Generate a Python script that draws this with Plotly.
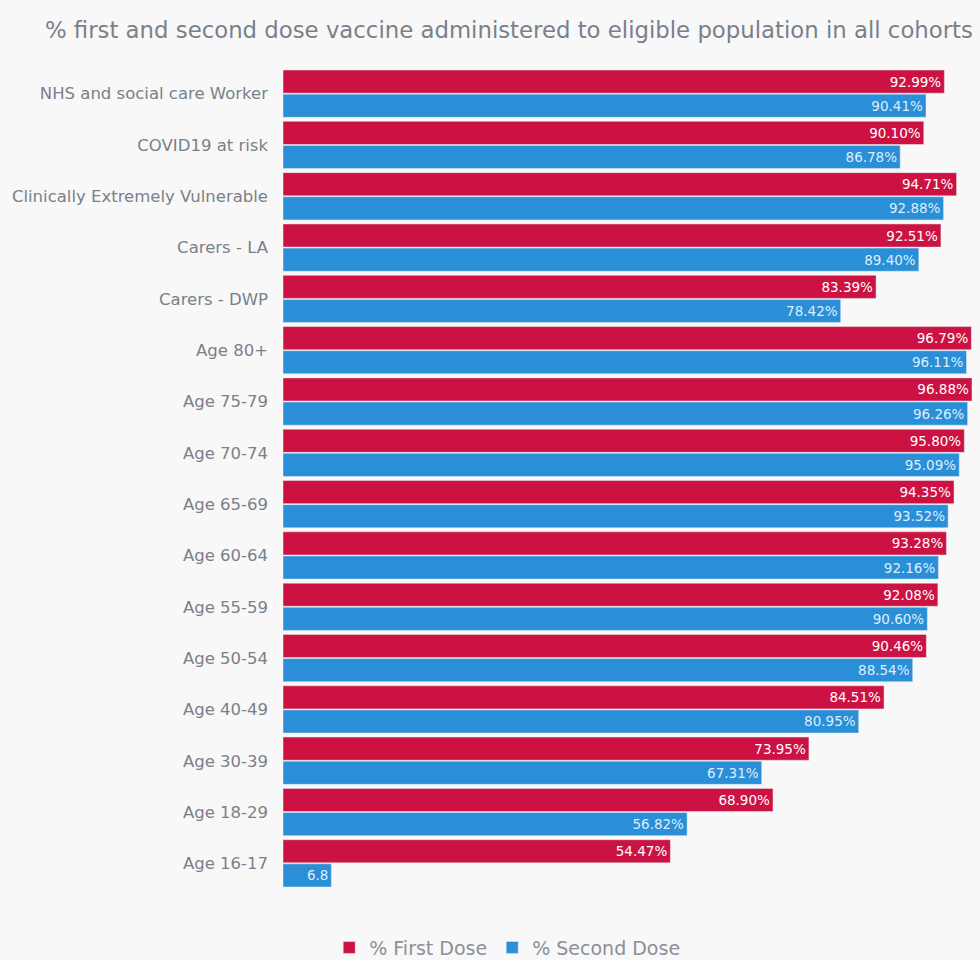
import plotly.graph_objects as go

categories = ["NHS and social care Worker", "COVID19 at risk", "Clinically Extremely Vulnerable",
              "Carers - LA", "Carers - DWP", "Age 80+", "Age 75-79", "Age 70-74", "Age 65-69",
              "Age 60-64", "Age 55-59", "Age 50-54", "Age 40-49", "Age 30-39", "Age 18-29", "Age 16-17"]
first_dose = [92.99, 90.10, 94.71, 92.51, 83.39, 96.79, 96.88, 95.80, 94.35, 93.28, 92.08, 90.46,
              84.51, 73.95, 68.90, 54.47]
second_dose = [90.41, 86.78, 92.88, 89.40, 78.42, 96.11, 96.26, 95.09, 93.52, 92.16, 90.60, 88.54,
               80.95, 67.31, 56.82, 6.8]
first_labels = [f"{v:.2f}%" for v in first_dose]
second_labels = [f"{v:.2f}%" for v in second_dose[:-1]] + ["6.8"]

RED = "#CC1242"
BLUE = "#2A8FD6"
BG = "#F8F8F8"
TXT = "#7A8089"
FONT = "DejaVu Sans"

fig = go.Figure()
fig.add_trace(go.Bar(y=categories, x=first_dose, name="% First Dose", orientation="h",
                     marker=dict(color=RED), text=first_labels, textposition="inside",
                     insidetextanchor="end", constraintext="none",
                     textfont=dict(color="white", size=13.5, family=FONT)))
fig.add_trace(go.Bar(y=categories, x=second_dose, name="% Second Dose", orientation="h",
                     marker=dict(color=BLUE), text=second_labels, textposition="inside",
                     insidetextanchor="end", constraintext="none",
                     textfont=dict(color="#DDEEFF", size=13.5, family=FONT)))

fig.update_layout(
    width=972, height=952,
    barmode="group", bargap=0.06, bargroupgap=0.04,
    paper_bgcolor=BG, plot_bgcolor=BG,
    margin=dict(l=275, r=5, t=60, b=71, autoexpand=False),
    title=dict(text="% first and second dose vaccine administered to eligible population in all cohorts",
               x=0.038, xanchor="left", y=0.977, yanchor="middle",
               font=dict(family=FONT, size=22.8, color=TXT)),
    font=dict(family=FONT, color=TXT),
    showlegend=True,
    legend=dict(orientation="h", x=0.324, xanchor="center", yref="container", y=0.013, yanchor="middle",
                font=dict(family=FONT, size=19, color="#8A8F98"), bgcolor="rgba(0,0,0,0)"),
)
fig.update_xaxes(range=[0, 97.3], visible=False, showgrid=False, zeroline=False, automargin=False)
fig.update_yaxes(autorange="reversed", showgrid=False, zeroline=False, showline=False, automargin=False,
                 ticks="", ticklabelstandoff=14, tickfont=dict(family=FONT, size=16.5, color=TXT))

fig.write_html("out.html", post_script=f"document.body.style.background='{BG}';")
